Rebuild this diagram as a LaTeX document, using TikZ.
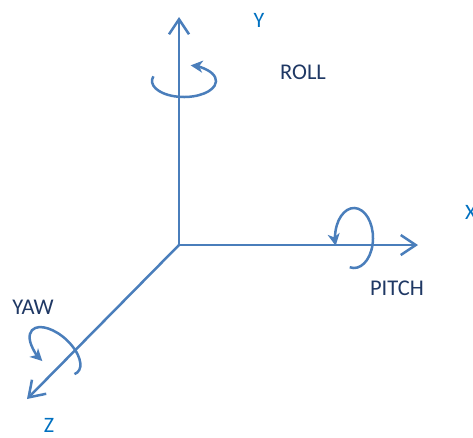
\documentclass[tikz,border=0pt]{standalone}
\usepackage{fontspec}
\setmainfont{Carlito}
\usetikzlibrary{arrows.meta}
\definecolor{axisblue}{HTML}{4A7EBB}
\definecolor{lblblue}{HTML}{0070C0}
\definecolor{navy}{HTML}{1F3864}
\begin{document}
\begin{tikzpicture}[x=1pt,y=-1pt,
  axis/.style={draw=axisblue,line width=2.5pt,-{Straight Barb[length=15pt,width=20pt,line width=2.5pt]}},
  loop/.style={draw=axisblue,line width=2.5pt,-{Stealth[length=12pt,width=12pt,inset=3.5pt]}},
  axlbl/.style={text=lblblue,font=\fontsize{22}{26}\selectfont,inner sep=0pt},
  rotlbl/.style={text=navy,font=\fontsize{22.5}{26}\selectfont,inner sep=0pt}]
\useasboundingbox (0,0) rectangle (473,437);
\coordinate (O) at (179,245);
\coordinate (Yend) at (179,17);
\coordinate (Xend) at (418,245);
\coordinate (Zend) at (27,399);
\draw[axis] (O) -- (Yend);
\draw[axis] (O) -- (Xend);
\draw[axis] (O) -- (Zend);
% roll loop
\coordinate (rc) at (184,81);
\draw[loop] ([shift={(197:32 and 16)}]rc) arc[start angle=197,end angle=-78,x radius=32,y radius=16];
% pitch loop
\coordinate (pc) at (354,238);
\draw[loop] ([shift={(103:19 and 30)}]pc) arc[start angle=103,end angle=-195,x radius=19,y radius=30];
% yaw loop
\coordinate (yc) at (55,351);
\draw[loop,rotate around={-42:(yc)}] ([shift={(15:31 and 16)}]yc) arc[start angle=15,end angle=-265,x radius=31,y radius=16];
\node[axlbl] (ly) at (259,20) {Y};
\node[axlbl,anchor=west] (lx) at (465,212) {X};
\node[axlbl] (lz) at (49,425) {Z};
\node[rotlbl] (lroll) at (303,72) {ROLL};
\node[rotlbl] (lpitch) at (397,288) {PITCH};
\node[rotlbl] (lyaw) at (33,307) {YAW};
\end{tikzpicture}
\end{document}
